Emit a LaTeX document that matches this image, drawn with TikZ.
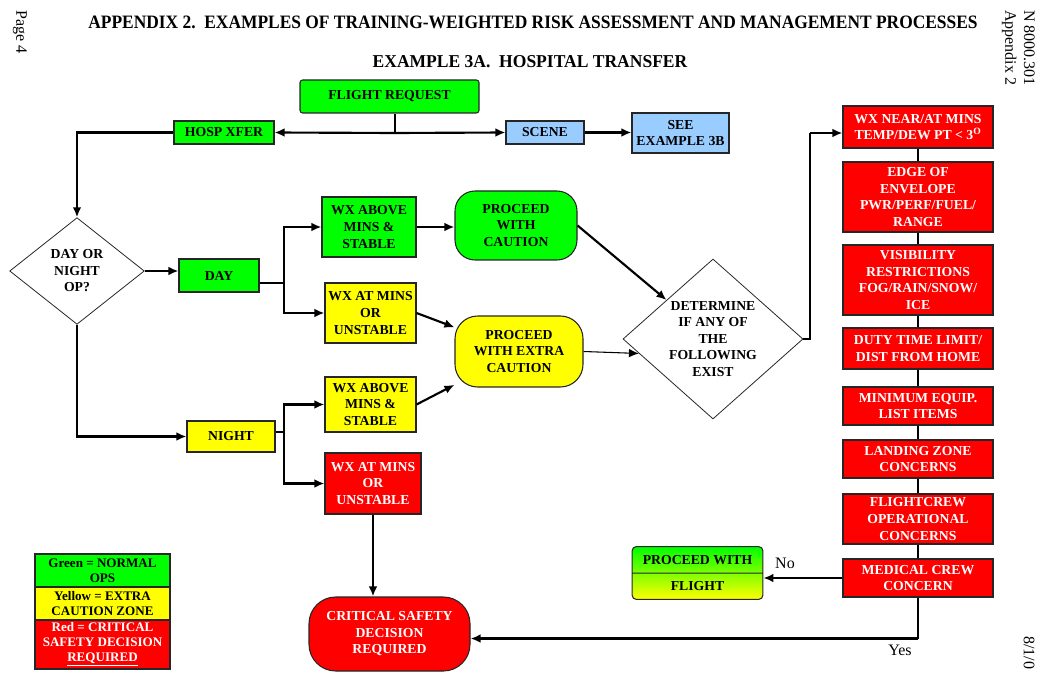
\documentclass[tikz,border=0pt]{standalone}
\usepackage{graphicx}
\usepackage{fontspec}
\setmainfont{Liberation Serif}
\usetikzlibrary{shapes.geometric,shapes.multipart,arrows.meta,calc}
\definecolor{cgreen}{HTML}{00FF00}
\definecolor{cyellow}{HTML}{FFFF00}
\definecolor{cred}{HTML}{FF0000}
\definecolor{cblue}{HTML}{99CCFF}
\newcommand{\nf}{\bfseries\fontsize{10.3}{12.4}\selectfont}
\newcommand{\lf}{\bfseries\fontsize{9.8}{11.2}\selectfont}
\begin{document}
\begin{tikzpicture}[x=0.75pt,y=-0.75pt,
  sz/.style 2 args={minimum width={#1*0.75pt}, minimum height={#2*0.75pt}},
  box/.style={draw=black!85, line width=0.8pt, align=center, inner sep=0pt, font=\nf},
  gbox/.style={box, fill=cgreen},
  ybox/.style={box, fill=cyellow},
  rbox/.style={box, fill=cred, text=white},
  bbox/.style={box, fill=cblue},
  dec/.style={draw=black!85, line width=0.6pt, shape=diamond, align=center, inner sep=0pt, font=\nf, fill=white},
  thk/.style={line width=1.6pt},
  thn/.style={line width=0.8pt},
  arr/.style={-{Latex[length=7.5pt,width=6.5pt]}},
  lbl/.style={font=\fontsize{12}{14}\selectfont, inner sep=0pt},
]
\useasboundingbox (0,0) rectangle (1045,677);
% titles and margins
\node[inner sep=0pt] (title) at (533,22) {\resizebox{667pt}{9.4pt}{\bfseries APPENDIX 2.\ \ EXAMPLES OF TRAINING-WEIGHTED RISK ASSESSMENT AND MANAGEMENT PROCESSES}};
\node[inner sep=0pt] (subtitle) at (530,62) {\resizebox{236pt}{9pt}{\bfseries EXAMPLE 3A.\ \ HOSPITAL TRANSFER}};
\node[lbl, rotate=-90, anchor=west] (page) at (20,10) {Page 4};
\node[lbl, rotate=-90, anchor=north west, align=left] (docid) at (1035,10) {N 8000.301\\Appendix 2};
\node[lbl, rotate=-90, anchor=west] (date) at (1029,636) {8/1/0};
% nodes
\node[gbox, rounded corners=2pt, sz={179}{33}] (FR) at (389.5,96.5) {FLIGHT REQUEST};
\node[gbox, sz={100}{23}] (HX) at (224,132.5) {HOSP XFER};
\node[bbox, sz={78}{23}] (SC) at (545,132.5) {SCENE};
\node[bbox, sz={97}{40}] (SEE) at (680.5,133) {SEE\\EXAMPLE 3B};
\node[dec, minimum width=101pt, minimum height=80pt, aspect=1.26] (D1) at (77,271) {DAY OR\\NIGHT\\OP?};
\node[gbox, sz={80}{33}] (DAY) at (219,275.5) {DAY};
\node[gbox, sz={94}{60}] (WXA) at (369,227) {WX ABOVE\\MINS \&\\STABLE};
\node[gbox, rounded corners=15pt, sz={122}{69}] (PC) at (516,225.5) {PROCEED\\WITH\\CAUTION};
\node[ybox, sz={91}{60}] (WXB) at (370.5,313) {WX AT MINS\\OR\\UNSTABLE};
\node[ybox, rounded corners=17pt, sz={128}{71}] (PX) at (519,351.5) {PROCEED\\WITH EXTRA\\CAUTION};
\node[ybox, sz={91}{55}] (WXC) at (370.5,404.5) {WX ABOVE\\MINS \&\\STABLE};
\node[rbox, sz={96}{61}] (WXD) at (373,483.5) {WX AT MINS\\OR\\UNSTABLE};
\node[ybox, sz={88}{31}] (NT) at (231,436.5) {NIGHT};
\node[rbox, rounded corners=20pt, sz={161}{74}] (CR) at (389.5,634) {CRITICAL SAFETY\\DECISION\\REQUIRED};
\node[dec, minimum width=135pt, minimum height=120pt, aspect=1.125] (D2) at (713,339) {DETERMINE\\IF ANY OF\\THE\\FOLLOWING\\EXIST};
% right column
\node[rbox, sz={150}{42}] (R1) at (918,127) {WX NEAR/AT MINS\\TEMP/DEW PT < 3\textsuperscript{O}};
\node[rbox, sz={150}{70}] (R2) at (918,197) {EDGE OF\\ENVELOPE\\PWR/PERF/FUEL/\\RANGE};
\node[rbox, sz={150}{70}] (R3) at (918,280) {VISIBILITY\\RESTRICTIONS\\FOG/RAIN/SNOW/\\ICE};
\node[rbox, sz={150}{41}] (R4) at (918,348.5) {DUTY TIME LIMIT/\\DIST FROM HOME};
\node[rbox, sz={150}{38}] (R5) at (918,406) {MINIMUM EQUIP.\\LIST ITEMS};
\node[rbox, sz={150}{38}] (R6) at (918,459) {LANDING ZONE\\CONCERNS};
\node[rbox, sz={150}{50}] (R7) at (918,519) {FLIGHTCREW\\OPERATIONAL\\CONCERNS};
\node[rbox, sz={150}{38}] (R8) at (918,578) {MEDICAL CREW\\CONCERN};
\node[draw=black!85, line width=0.8pt, rectangle split, rectangle split parts=2, rounded corners=3pt,
      top color=cgreen, bottom color=cyellow, font=\nf, minimum width=98pt, inner ysep=6pt, inner xsep=0pt]
      (PF) at (697.5,573) {PROCEED WITH\nodepart{two}FLIGHT};
% legend
\node[gbox, font=\lf, sz={135}{33}] (LG) at (102.5,570.5) {Green = NORMAL\\OPS};
\node[ybox, font=\lf, sz={135}{33}] (LY) at (102.5,603.5) {Yellow = EXTRA\\CAUTION ZONE};
\node[rbox, font=\lf, sz={135}{49}] (LR) at (102.5,644.5) {Red = CRITICAL\\SAFETY DECISION\\\underline{REQUIRED}};
% labels
\node[lbl] (no) at (785,563) {No};
\node[lbl] (yes) at (900,650) {Yes};
% connectors
\coordinate (j1) at (395,133);
\draw[thn] (j1 |- FR.south) -- (j1);
\draw[thk,arr] (j1) -- (HX.east);
\draw[thk,arr] (j1) -- (SC.west);
\draw[thk,arr] (SC.east) -- (SEE.west |- SC.east);
\draw[thk,arr] (HX.west) -| (D1.north);
\draw[thk,arr] (D1.east) -- (D1.east -| DAY.west);
\coordinate (j2) at (284,283);
\draw[thn] (DAY.east |- j2) -- (j2);
\draw[thk,arr] (j2) |- (WXA.west);
\draw[thk,arr] (j2) |- (WXB.west);
\draw[thk,arr] (WXA.east) -- (WXA.east -| PC.west);
\draw[thk,arr] (PC.east) -- (D2);
\draw[thk,arr] (WXB.east) -- (PX);
\draw[thk,arr] (WXC.east) -- (PX);
\draw[thn,arr] (PX.east) -- ($(D2.west)!0.18!(D2.south)$);
\coordinate (j3) at (810,133);
\draw[thn] (D2.east) -| (j3);
\draw[thk,arr] (j3) -- (j3 -| R1.west);
\draw[thn] (R1.south) -- (R2.north);
\draw[thn] (R2.south) -- (R3.north);
\draw[thn] (R3.south) -- (R4.north);
\draw[thn] (R4.south) -- (R5.north);
\draw[thn] (R5.south) -- (R6.north);
\draw[thn] (R6.south) -- (R7.north);
\draw[thn] (R7.south) -- (R8.north);
\draw[thk,arr] (R8.west) -- (R8.west -| PF.east);
\draw[thn] (R8.south) -- ++(0,41) coordinate (j4);
\draw[thk,arr] (j4) -- (j4 -| CR.east);
\draw[thk,arr] (D1.south) |- (NT.west);
\coordinate (j5) at (284,432);
\draw[thn] (NT.east |- j5) -- (j5);
\draw[thk,arr] (j5) |- (WXC.west);
\draw[thk,arr] (j5) |- (WXD.west);
\draw[thk,arr] (WXD.south) -- (WXD.south |- CR.north);
\end{tikzpicture}
\end{document}
